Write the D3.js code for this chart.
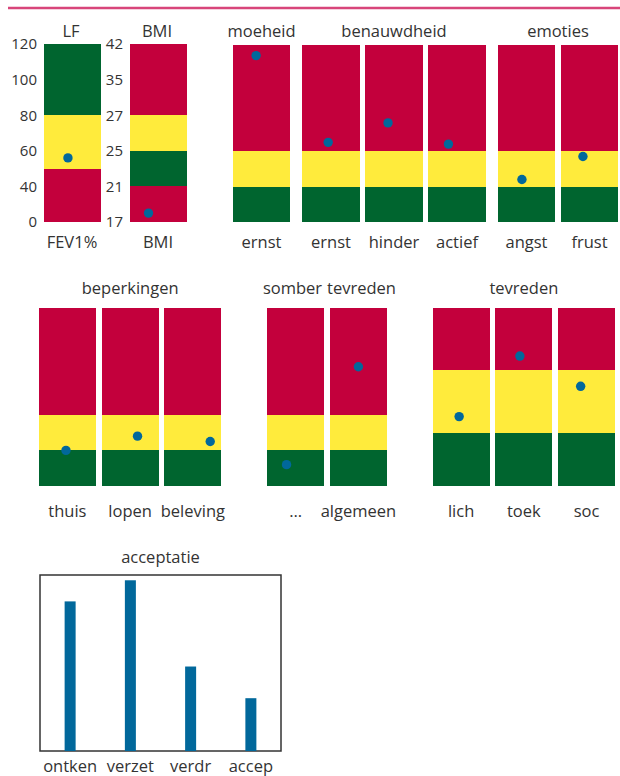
<!DOCTYPE html>
<html>
<head>
<meta charset="utf-8">
<script src="https://cdn.jsdelivr.net/npm/d3@7.9.0/dist/d3.min.js"></script>
<style>
  body { margin: 0; background: #fff; }
  text { font-family: "Open Sans", "Noto Sans", sans-serif; fill: #333; }
</style>
</head>
<body>
<svg id="chart" width="620" height="776"></svg>
<script>
// ---- data ----
// LF (FEV1%) and BMI have their own uneven axes
const lfTicks = [0, 40, 60, 80, 100, 120];
const lfBands = [[0, 50, 'red'], [50, 80, 'yellow'], [80, 120, 'green']];
const lfValue = 56;
const lfJitter = -0.16;

const bmiTicks = [17, 21, 25, 27, 35, 42];
const bmiBands = [[17, 21, 'red'], [21, 25, 'green'], [25, 27, 'yellow'], [27, 42, 'red']];
const bmiValue = 18;
const bmiJitter = -0.35;

// score bars, 0-100
const scoreBands = [[0, 20, 'green'], [20, 40, 'yellow'], [40, 100, 'red']];
const tevredenBands = [[0, 30, 'green'], [30, 65, 'yellow'], [65, 100, 'red']];

const row1Titles = ['moeheid', 'benauwdheid', 'benauwdheid', 'benauwdheid', 'emoties', 'emoties'];
const row1Labels = ['ernst', 'ernst', 'hinder', 'actief', 'angst', 'frust'];
const row1Panel = [0, 1, 1, 1, 2, 2];
const row1Values = [94, 45, 56, 44, 24, 37];
const row1Jitter = [-0.19, -0.1, -0.21, -0.3, -0.16, -0.23];

const row2Titles = ['beperkingen', 'beperkingen', 'beperkingen', 'somber', 'tevreden', 'tevreden', 'tevreden', 'tevreden'];
const row2Labels = ['thuis', 'lopen', 'beleving', '…', 'algemeen', 'lich', 'toek', 'soc'];
const row2Panel = [0, 0, 0, 1, 1, 2, 2, 2];
const row2Scale = ['score', 'score', 'score', 'score', 'score', 'tevreden', 'tevreden', 'tevreden'];
const row2Values = [20, 28, 25, 12, 67, 39, 73, 56];
const row2Jitter = [-0.05, 0.26, 0.61, -0.32, 0, -0.07, -0.14, -0.21];

const accCategories = ['ontken', 'verzet', 'verdr', 'accep'];
const accValues = [85, 97, 48, 30];

// ---- styles ----
const colors = { red: '#c3003c', yellow: '#ffeb3c', green: '#00652f' };
const dotColor = '#01689b';
const fontSize = 16.5;
const svg = d3.select('#chart');

//pink rule at the top
svg.append('line')
    .attr('x1', 8).attr('x2', 620).attr('y1', 8).attr('y2', 8)
    .attr('stroke', '#d8457a').attr('stroke-width', 2.5);

//draws one traffic-light bar with its dot
function drawBar(x0, width, y, bands, value, jitter) {
    bands.forEach(([lo, hi, c]) => {
        svg.append('rect')
            .attr('x', x0).attr('width', width)
            .attr('y', y(hi)).attr('height', y(lo) - y(hi))
            .attr('fill', colors[c])
            .attr('shape-rendering', 'crispEdges');
    });
    const jx = d3.scaleLinear().domain([-1, 1]).range([x0, x0 + width]);
    svg.append('circle')
        .attr('cx', jx(jitter)).attr('cy', y(value))
        .attr('r', 4.7).attr('fill', dotColor);
}

function label(x, y, txt) {
    return svg.append('text')
        .attr('x', x).attr('y', y)
        .attr('text-anchor', 'middle')
        .attr('font-size', fontSize)
        .text(txt);
}

// ---- LF and BMI ----
const topY = 44, botY = 222;
function unevenScale(ticks) {
    const step = (botY - topY) / (ticks.length - 1);
    return d3.scaleLinear().domain(ticks).range(ticks.map((_, i) => botY - i * step));
}
const lfY = unevenScale(lfTicks);
const bmiY = unevenScale(bmiTicks);

[[lfY, lfTicks, 44], [bmiY, bmiTicks, 130]].forEach(([sc, ticks, x]) => {
    const g = svg.append('g')
        .attr('transform', `translate(${x},0)`)
        .call(d3.axisLeft(sc).tickValues(ticks).tickSize(0).tickPadding(7));
    g.select('.domain').remove();
    g.selectAll('text').attr('font-size', 15).style('font-family', '"Open Sans", sans-serif').attr('fill', '#333');
});

drawBar(44, 57, lfY, lfBands, lfValue, lfJitter);
drawBar(130, 57, bmiY, bmiBands, bmiValue, bmiJitter);
label(71, 37, 'LF');
label(157, 37, 'BMI');
label(72, 248, 'FEV1%');
label(158, 248, 'BMI');

// ---- rows of score bars ----
function drawRow(titles, labels, panels, values, jitter, bandsOf, x0, x1, gap, yTop, yBot, titleY, labelY) {
    const n = labels.length;
    const nGaps = d3.max(panels);
    const x = d3.scaleBand()
        .domain(d3.range(n))
        .range([x0, x1 - nGaps * gap])
        .paddingInner(0.095);
    const xPos = i => x(i) + panels[i] * gap;
    const y = d3.scaleLinear().domain([0, 100]).range([yBot, yTop]);

    labels.forEach((lab, i) => {
        drawBar(xPos(i), x.bandwidth(), y, bandsOf(i), values[i], jitter[i]);
        label(xPos(i) + x.bandwidth() / 2, labelY, lab);
    });

    //titles centred over consecutive bars with the same title and panel
    const groups = d3.groups(d3.range(n), i => panels[i] + '|' + titles[i]);
    const placed = groups.map(([_, idx]) => {
        const left = xPos(idx[0]);
        const right = xPos(idx[idx.length - 1]) + x.bandwidth();
        const cx = (left + right) / 2;
        return { cx, node: label(cx, titleY, titles[idx[0]]) };
    });

    //push neighbouring titles apart when they touch
    for (let k = 1; k < placed.length; k++) {
        const a = placed[k - 1], b = placed[k];
        const wa = a.node.node().getComputedTextLength();
        const wb = b.node.node().getComputedTextLength();
        const space = (b.cx - wb / 2) - (a.cx + wa / 2);
        if (space < 5) {
            const shift = (5 - space) / 2;
            a.cx -= shift; b.cx += shift;
            a.node.attr('x', a.cx);
            b.node.attr('x', b.cx);
        }
    }
}

drawRow(row1Titles, row1Labels, row1Panel, row1Values, row1Jitter,
    () => scoreBands, 233, 618, 6.5, 45, 222, 37, 248);

drawRow(row2Titles, row2Labels, row2Panel, row2Values, row2Jitter,
    i => row2Scale[i] === 'score' ? scoreBands : tevredenBands,
    39, 615, 40, 308, 486, 293.5, 517);

// ---- acceptatie bar chart ----
const box = { x0: 40, x1: 281, y0: 575, y1: 751 };
const ax = d3.scaleBand().domain(accCategories).range([box.x0, box.x1]);
const ay = d3.scaleLinear().domain([0, 100]).range([box.y1, box.y0]);

svg.append('rect')
    .attr('x', box.x0).attr('y', box.y0)
    .attr('width', box.x1 - box.x0).attr('height', box.y1 - box.y0)
    .attr('fill', 'none').attr('stroke', '#333').attr('stroke-width', 1.5);

svg.selectAll('rect.acc')
    .data(accValues)
    .join('rect')
    .attr('class', 'acc')
    .attr('x', (d, i) => ax(accCategories[i]) + ax.bandwidth() / 2 - 5.5)
    .attr('width', 11)
    .attr('y', d => ay(d))
    .attr('height', d => ay(0) - ay(d))
    .attr('fill', dotColor);

accCategories.forEach(c => label(ax(c) + ax.bandwidth() / 2, 772, c));
label((box.x0 + box.x1) / 2, 563, 'acceptatie');
</script>
</body>
</html>
